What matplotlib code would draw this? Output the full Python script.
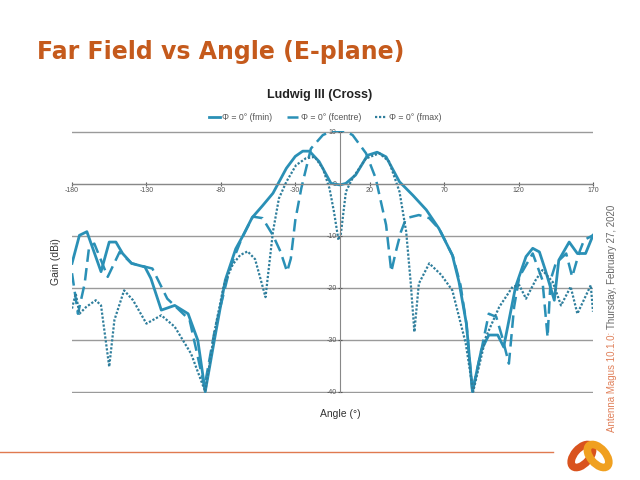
import numpy as np
import matplotlib.pyplot as plt
from matplotlib.lines import Line2D
from matplotlib.patches import Ellipse

# Far-field cross-pol gain vs angle, three frequencies
ang_fmin = [-180, -175, -170, -160.5, -155, -150.5, -146, -140, -131, -127, -120, -111, -102,
            -95.5, -90.5, -84, -77, -70, -65, -59, -52, -45, -36, -30, -25, -20.5, -14, -6,
            0, 4, 10.5, 18.5, 25, 31, 40, 49, 58, 66.5, 75.5, 80, 85, 89, 95, 100, 106, 110,
            118, 125, 129.5, 134, 138, 144, 147, 154, 159.5, 165, 170]
gain_fmin = [-15.3, -9.9, -9.2, -16.9, -11.2, -11.2, -13.4, -15.3, -16, -18.2, -24.3, -23.4, -25,
             -30.1, -40, -29.5, -18.5, -12.5, -9.9, -6.5, -4.2, -1.8, 3.0, 5.3, 6.3, 6.3, 4.3, 0.1,
             -0.2, 0.1, 1.7, 5.5, 6.1, 5.2, 0.4, -2.2, -5.0, -8.6, -13.7, -18.9, -27, -40, -32,
             -29.1, -29.1, -31.4, -19.8, -14, -12.4, -13.1, -16.6, -22.4, -14.7, -11.2, -13.4,
             -13.4, -9.9]

ang_fcen = [-180, -176, -171.5, -168.5, -165, -156, -148, -140, -126, -116, -109, -101, -91, -84,
            -74, -66, -58.5, -52, -45, -40, -35.5, -33, -30, -26, -19.5, -11.5, -5, 3, 8.5, 17.5,
            24, 31, 34.5, 37.5, 41, 44.5, 53, 60, 67, 76, 81, 85, 89, 95, 100, 105, 109, 113.5,
            117, 120.5, 129.5, 136, 139.5, 141.5, 145, 152, 156, 160.5, 164, 170]
gain_fcen = [-17.2, -25, -19.2, -12.1, -11.5, -17.9, -13.1, -15.3, -16.3, -22.1, -24, -26.2, -39.1,
             -28, -16.3, -10.5, -6.3, -6.6, -9.9, -13, -16.9, -14.4, -7, -0.9, 6.8, 9.4, 10.2,
             10.2, 9.4, 5.9, 1.1, -7.9, -16.9, -13.1, -9.2, -6.6, -6, -6.6, -8.8, -14, -19.5,
             -27, -40, -32, -25, -25.6, -29.5, -34.6, -23.7, -17.9, -13.4, -18.5, -29.5, -18.5,
             -15.3, -13.4, -17.9, -13.4, -10.8, -9.9]

ang_fmax = [-180, -177.5, -175, -170.5, -164, -160.5, -155, -151.5, -145, -139, -130, -120, -111,
            -100, -90.5, -84, -78, -72, -67, -62, -57, -50, -45, -41, -36, -29.5, -23, -17, -11.5,
            -7, -4, -1, 0.5, 4, 8.5, 17.5, 26.5, 33, 40, 44.5, 47.5, 50, 53, 60, 68, 75.5, 84.5,
            89.5, 98, 107, 116, 120.5, 125, 131.5, 136, 143, 148.5, 155, 159.5, 168.5, 170]
gain_fmax = [-24, -21.1, -25, -23.7, -22.4, -23.4, -35.2, -26.2, -20.5, -22.4, -26.9, -25.3, -27.5,
             -32.7, -40, -28, -19.5, -15.5, -13.7, -13, -14.5, -21.8, -9.2, -2.8, 0.4, 3.6, 4.9,
             5.2, 3.0, -0.9, -5.4, -10.8, -9.9, -1.5, 1.1, 4.9, 5.9, 4.3, -1.5, -9.2, -18.9,
             -28.5, -19.2, -15.3, -17.5, -20.5, -30.7, -40, -29.5, -23.7, -19.8, -19.5, -22.1,
             -18.5, -16.6, -18.9, -23.4, -19.8, -25, -19.5, -24.6]

x_ticks = [-180, -130, -80, -30, 20, 70, 120, 170]
y_ticks = [-40, -30, -20, -10, 0, 10]
labels = ["Φ = 0° (fmin)", "Φ = 0° (fcentre)", "Φ = 0° (fmax)"]

teal = "#2a90b6"
teal_dark = "#2f7e9c"
orange = "#c55a1c"

plt.rcParams['font.family'] = ['Liberation Sans', 'DejaVu Sans']
plt.rcParams['axes.unicode_minus'] = False

fig = plt.figure(figsize=(6.4, 4.8), dpi=100)
ax = fig.add_axes([72/640, 1-392.7/480, 521/640, 261.8/480])

l1, = ax.plot(ang_fmin, gain_fmin, color=teal, lw=2.0, solid_joinstyle="round")
l2, = ax.plot(ang_fcen, gain_fcen, color=teal, lw=1.8, ls=(0, (5, 2.5)))
l3, = ax.plot(ang_fmax, gain_fmax, color=teal_dark, lw=1.6, ls=(0, (1, 0.8)))

ax.set_xlim(-180, 170)
ax.set_ylim(-40.2, 10.2)
ax.set_xticks(x_ticks)
ax.set_yticks(y_ticks)
ax.yaxis.grid(True, color="#9a9a9a", lw=1.0)
ax.set_axisbelow(True)
for s in ["top", "right"]:
    ax.spines[s].set_visible(False)
ax.spines["left"].set_position(("data", 0))
ax.spines["bottom"].set_position(("data", 0))
ax.spines["left"].set_color("#888888")
ax.spines["bottom"].set_color("#888888")
ax.spines["left"].set_bounds(-40, 10)
ax.tick_params(axis="both", labelsize=5, colors="#555555", length=3, direction="inout", pad=1)

ax.text(-0.03, 0.5, "Gain (dBi)", transform=ax.transAxes, rotation=90,
        ha="center", va="center", fontsize=7.5, color="#333333")
fig.text(340/640, 1-414/480, "Angle (°)", ha="center", va="center", fontsize=7.5, color="#333333")

fig.text(37/640, 1-52/480, "Far Field vs Angle (E-plane)", ha="left", va="center",
         fontsize=17, fontweight="bold", color=orange, family="DejaVu Sans")
fig.text(320/640, 1-95/480, "Ludwig III (Cross)", ha="center", va="center",
         fontsize=9, fontweight="bold", color="#222222")
leg = fig.legend([l1, l2, l3], labels, loc="center", bbox_to_anchor=(325/640, 1-118/480),
                 ncol=3, frameon=False, fontsize=6.3, handlelength=1.3, columnspacing=1.6,
                 handletextpad=0.3)
for t in leg.get_texts():
    t.set_color("#555555")

# side stamp
t1 = fig.text(612/640, 1-432/480, "Antenna Magus 10.1.0:", rotation=90, ha="center",
              va="bottom", fontsize=7, color="#e0805a")
fig.canvas.draw()
bb = t1.get_window_extent()
fig.text(612/640, (bb.y1 + 3)/480, "Thursday, February 27, 2020", rotation=90, ha="center",
         va="bottom", fontsize=7, color="#666666")

# footer line and logo
fig.add_artist(Line2D([0, 553/640], [1-452/480, 1-452/480], color="#e07a50", lw=1.0))
lax = fig.add_axes([563/640, 1-478/480, 54/640, 44/480])
lax.set_xlim(0, 1.2)
lax.set_ylim(0, 1)
lax.axis("off")
lax.add_patch(Ellipse((0.42, 0.5), 0.62, 0.34, angle=50, fill=False, ec="#d9531e", lw=5.5))
lax.add_patch(Ellipse((0.78, 0.5), 0.62, 0.34, angle=-50, fill=False, ec="#f0a020", lw=5.5))

fig.savefig("out.png", dpi=100)
